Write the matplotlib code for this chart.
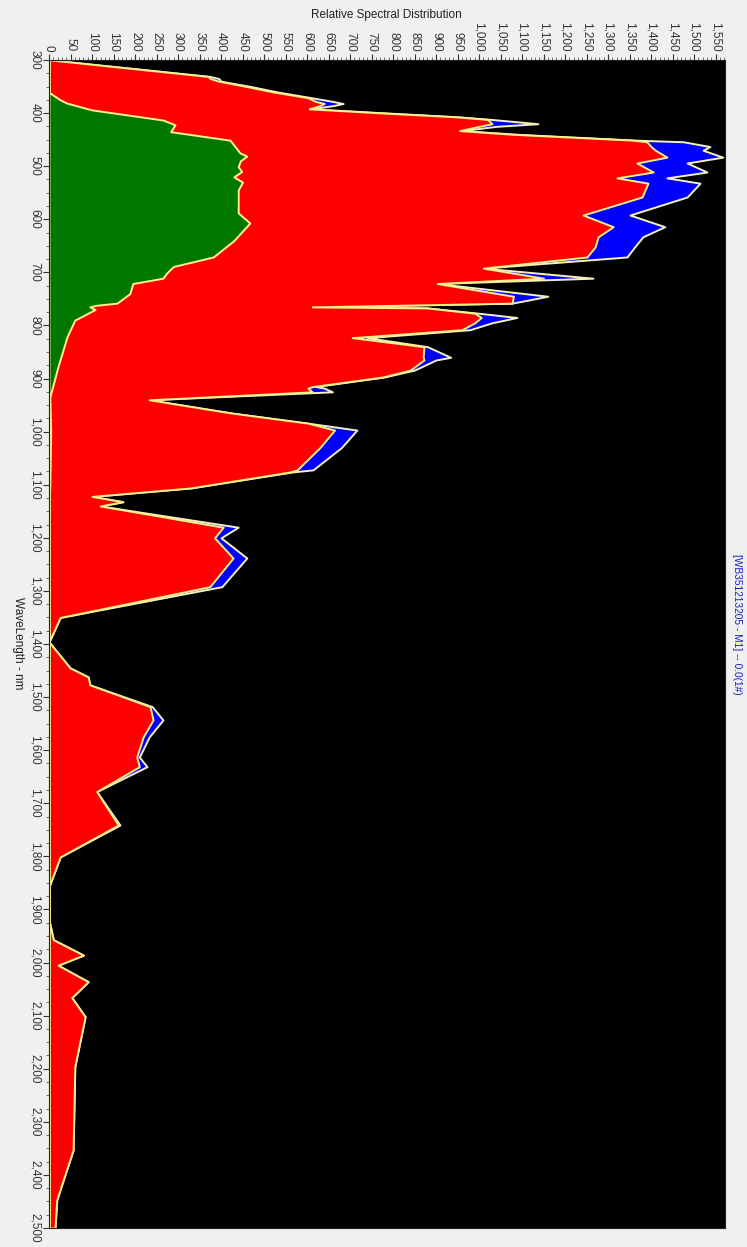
import matplotlib
matplotlib.use("Agg")
import matplotlib.pyplot as plt
from matplotlib.ticker import MultipleLocator, FuncFormatter

plt.rcParams["font.family"] = ["Liberation Sans", "DejaVu Sans"]

# wavelength (nm) and relative values
wl_red = [300, 331, 335, 340, 350, 360, 371, 378, 382, 386, 392, 400, 407, 412, 420, 425,
          433, 440, 451, 454, 463, 470, 483, 494, 511, 522, 532, 558, 592, 614, 633, 652,
          671, 692, 711, 721, 745, 758, 765, 767, 777, 785, 795, 808, 823, 840, 860, 865,
          884, 897, 915, 918, 925, 940, 965, 984, 997, 1030, 1072, 1076, 1106, 1122, 1132,
          1140, 1180, 1200, 1238, 1292, 1350, 1396, 1445, 1462, 1477, 1518, 1543, 1575,
          1613, 1631, 1678, 1741, 1801, 1857, 1920, 1957, 1986, 2005, 2036, 2066, 2102,
          2196, 2353, 2447, 2500]
red_vals = [5, 370, 375, 395, 460, 520, 602, 620, 640, 630, 605, 780, 946, 1020, 1030, 1000,
            955, 1080, 1358, 1390, 1400, 1410, 1437, 1367, 1405, 1321, 1393, 1379, 1242, 1312, 1277, 1270,
            1251, 1010, 1150, 903, 1080, 1077, 612, 879, 990, 1005, 990, 960, 705, 872, 870, 872,
            840, 777, 614, 602, 612, 233, 425, 602, 664, 630, 577, 560, 330, 100, 172,
            119, 405, 385, 428, 374, 26, 0, 49, 91, 95, 235, 242, 219,
            204, 210, 111, 161, 26, 0, 0, 10, 80, 21, 91, 53, 84,
            60, 56, 18, 14]
blue_vals = [5, 375, 395, 400, 470, 530, 610, 660, 684, 660, 610, 790, 950, 1030, 1137, 1040,
             960, 1090, 1365, 1475, 1537, 1521, 1567, 1484, 1530, 1437, 1514, 1484, 1351, 1432, 1381, 1362,
             1344, 1010, 1265, 903, 1160, 1077, 612, 879, 1000, 1088, 1030, 979, 740, 880, 934, 900,
             850, 780, 620, 640, 659, 233, 425, 602, 716, 680, 614, 565, 330, 100, 172,
             119, 440, 400, 460, 402, 26, 0, 49, 91, 95, 240, 265, 233,
             210, 228, 111, 165, 26, 0, 0, 10, 80, 21, 91, 53, 84,
             60, 56, 18, 14]

wl_green = [300, 360, 362, 375, 381, 394, 413, 422, 435, 451, 475, 481, 490, 501, 510, 520,
            530, 545, 588, 607, 640, 671, 689, 701, 711, 721, 740, 758, 762, 765, 770, 790,
            821, 880, 935, 1000, 1100, 1150, 2500]
green_vals = [0, 0, 2, 26, 41, 100, 265, 293, 283, 421, 444, 460, 445, 440, 448, 430,
              450, 440, 440, 467, 430, 382, 289, 274, 265, 195, 188, 158, 110, 95, 107, 60,
              42, 20, 2, 4, 2, 0, 0]

legend_text = "[WB351213205 - M1] -- 0.0(1#)"

fig = plt.figure(figsize=(7.47, 12.47), dpi=100, facecolor="#f0f0f0")
ax = fig.add_axes([49 / 747, 1 - 1228 / 1247, (725 - 49) / 747, (1228 - 60) / 1247])
ax.set_facecolor("black")

ax.fill_betweenx(wl_red, 0, blue_vals, facecolor="#0000ff", edgecolor="#f4f0c0", linewidth=1.4)
ax.fill_betweenx(wl_red, 0, red_vals, facecolor="#ff0000", edgecolor="#fff08a", linewidth=1.4)
ax.fill_betweenx(wl_green, 0, green_vals, facecolor="#007800", edgecolor="#fff08a", linewidth=1.4)

ax.set_xlim(0, 1572)
ax.set_ylim(2500, 300)

fmt = FuncFormatter(lambda v, p: f"{v:,.0f}")
ax.xaxis.tick_top()
ax.xaxis.set_major_locator(MultipleLocator(50))
ax.xaxis.set_minor_locator(MultipleLocator(10))
ax.xaxis.set_major_formatter(fmt)
ax.yaxis.set_major_locator(MultipleLocator(100))
ax.yaxis.set_minor_locator(MultipleLocator(25))
ax.yaxis.set_major_formatter(fmt)
ax.tick_params(axis="x", which="major", labelrotation=-90, labelsize=8.5, length=4, pad=2, colors="#333333")
ax.tick_params(axis="y", which="major", labelrotation=-90, labelsize=8.5, length=4, pad=2, colors="#333333")
ax.tick_params(which="minor", length=2, colors="#555555")
for lab in ax.get_yticklabels():
    lab.set_va("center")
for s in ax.spines.values():
    s.set_color("#202020")

fig.text(386 / 747, 1 - 15 / 1247, "Relative Spectral Distribution", ha="center", va="center",
         fontsize=8.5, color="#222222")
fig.text(18 / 747, 1 - 643 / 1247, "WaveLength - nm", rotation=-90, ha="center", va="center",
         fontsize=8.5, color="#222222")
fig.text(737 / 747, 1 - 624 / 1247, legend_text, rotation=-90, ha="center", va="center",
         fontsize=7.3, color="#1a1acc")

fig.savefig("out.png", dpi=100, facecolor=fig.get_facecolor())
